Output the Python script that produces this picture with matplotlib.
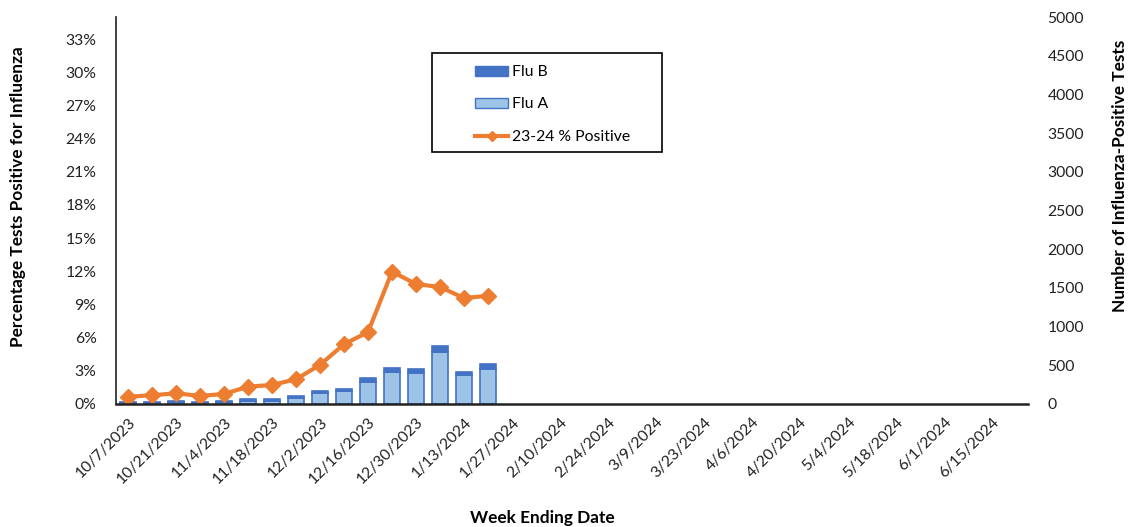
import matplotlib
matplotlib.use('Agg')
from matplotlib import pyplot as plt
from matplotlib.patches import Rectangle, Patch
from matplotlib.lines import Line2D
import pandas as pd

plt.rcParams['font.family'] = ['Lato', 'DejaVu Sans']
font = 11.3

# weeks ending 10/7/2023 .. 6/22/2024
weeks = pd.date_range('2023-10-07', '2024-06-22', freq='7D')
week_labels = [f"{d.month}/{d.day}/{d.year}" for d in weeks]

# reported weeks so far (10/7/2023 .. 1/20/2024)
flu_a = [18, 18, 25, 18, 26, 45, 45, 72, 138, 170, 288, 413, 404, 667, 374, 448]
flu_b = [12, 12, 15, 12, 14, 20, 20, 28, 34, 24, 43, 52, 52, 86, 43, 69]
pct_pos = [0.66, 0.79, 0.97, 0.73, 0.91, 1.57, 1.72, 2.24, 3.54, 5.41, 6.5,
           11.97, 10.85, 10.58, 9.58, 9.79]

c_b = '#4472C4'
c_a = '#9DC3E6'
c_line = '#ED7D31'

fig = plt.figure(figsize=(11.3, 5.27), dpi=100)
ax = fig.add_axes([0.1027, 0.2334, 0.8070, 0.7343])
ax2 = ax.twinx()
ax.set_zorder(ax2.get_zorder() + 1)
ax.patch.set_visible(False)
ax2.set_facecolor('#F2F2F2')

x = list(range(len(flu_a)))
ax2.bar(x, flu_a, width=0.7, color=c_a, edgecolor=c_b, linewidth=1.2)
ax2.bar(x, flu_b, bottom=flu_a, width=0.7, color=c_b, edgecolor=c_b, linewidth=1.2)
ax2.set_ylim(0, 5000)
ax2.set_yticks(range(0, 5001, 500))

ax.plot(x, [p / 100 for p in pct_pos], color=c_line, linewidth=3,
        marker='D', markersize=8, markeredgecolor=c_line)
ax.set_ylim(0, 0.35)
ax.set_yticks([i / 100 for i in range(0, 34, 3)])
ax.set_yticklabels([f"{i}%" for i in range(0, 34, 3)])

ax.set_xlim(-0.5, len(weeks) - 0.5)
ax.set_xticks(range(0, len(weeks), 2))
ax.set_xticklabels(week_labels[::2], rotation=45, ha='right',
                   rotation_mode='anchor', fontsize=font)

for a in (ax, ax2):
    a.tick_params(axis='both', length=0, labelsize=font, colors='#222222')
    for s in a.spines.values():
        s.set_visible(False)
ax.tick_params(axis='x', pad=8)
ax.tick_params(axis='y', pad=14)
ax2.tick_params(axis='y', pad=14)
ax.spines['left'].set_visible(True)
ax.spines['left'].set_color('#222222')
ax.spines['left'].set_linewidth(1.2)
ax.spines['bottom'].set_visible(True)
ax.spines['bottom'].set_color('#222222')
ax.spines['bottom'].set_linewidth(1.8)

fig.text(0.016, 0.626, 'Percentage Tests Positive for Influenza', rotation=90,
         ha='center', va='center', fontsize=12.4, fontweight='bold')
fig.text(0.991, 0.666, 'Number of Influenza-Positive Tests', rotation=90,
         ha='center', va='center', fontsize=12.4, fontweight='bold')
fig.text(0.48, 0.017, 'Week Ending Date', ha='center', va='center',
         fontsize=12.4, fontweight='bold')

# legend box
fig.patches.append(Rectangle((432 / 1130, 1 - 152 / 527), 230 / 1130, 99 / 527,
                             transform=fig.transFigure, facecolor='white',
                             edgecolor='black', linewidth=1.2, zorder=5))
handles = [Patch(facecolor=c_b, edgecolor=c_b),
           Patch(facecolor=c_a, edgecolor=c_b),
           Line2D([], [], color=c_line, linewidth=3, marker='D', markersize=5)]
leg = fig.legend(handles, ['Flu B', 'Flu A', '23-24 % Positive'],
                 loc='upper left', bbox_to_anchor=(461 / 1130, 1 - 51 / 527),
                 frameon=False, fontsize=font, labelspacing=1.17,
                 handlelength=2.1, handleheight=0.6, handletextpad=0.25)
leg.set_zorder(6)

fig.savefig('out.png', dpi=100)
